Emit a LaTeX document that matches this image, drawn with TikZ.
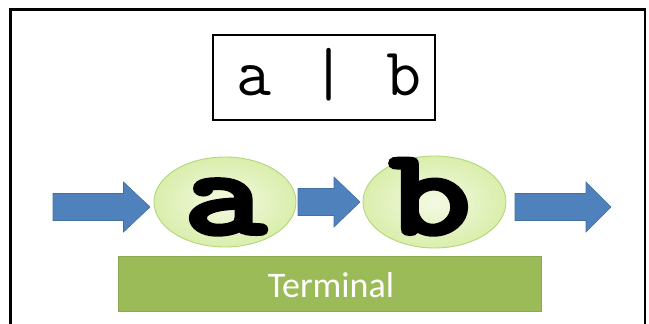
\documentclass[tikz,border=0pt]{standalone}
\usepackage{fontspec}
\setmainfont{Carlito}
\newfontfamily\courfont{Latin Modern Mono}
\newfontfamily\courboldfont{Latin Modern Mono}[FakeBold=5]
\usetikzlibrary{shapes.geometric}
\definecolor{arrowblue}{HTML}{4F81BD}
\definecolor{arrowedge}{HTML}{41709F}
\definecolor{ellfillin}{HTML}{F4FAE4}
\definecolor{ellfillout}{HTML}{DAEEAC}
\definecolor{elledge}{HTML}{B2D67A}
\definecolor{termgreen}{HTML}{9BBB59}
\definecolor{termedge}{HTML}{8BA84E}
\tikzset{
  blockarrow/.style={fill=arrowblue, draw=arrowedge, line width=0.6pt, line join=miter},
  stateell/.style={ellipse, inner sep=0pt, draw=elledge, line width=0.9pt,
    inner color=ellfillin, outer color=ellfillout},
  bigletter/.style={font=\courboldfont\fontsize{120}{120}\selectfont, inner sep=0pt, anchor=base},
}
\begin{document}
\begin{tikzpicture}[x=1pt,y=-1pt]
\useasboundingbox (0,0) rectangle (649,324);
% outer frame (open at the bottom)
\draw[line width=2.5pt] (10.5,330) -- (10.5,9.5) -- (645,9.5) -- (645,330);
% top expression box
\node[draw, line width=2pt, minimum width=222pt, minimum height=85pt, inner sep=0pt] (expr) at (324,77.5) {};
\node[font=\courfont\fontsize{68}{68}\selectfont, anchor=base, inner sep=0pt] (exprtext) at (329,95) {a\hspace{40pt}|\hspace{40pt}b};
% state ellipses
\node[stateell, minimum width=142pt, minimum height=90pt] (ea) at (225,202) {};
\node[stateell, minimum width=143pt, minimum height=92pt] (eb) at (434.5,202) {};
\node[bigletter] (la) at (225,233) {\scalebox{1.3}[1]{a}};
\node[bigletter] (lb) at (430,233) {\scalebox{1.3}[1]{b}};
% block arrows
\draw[blockarrow] (53,193.5) -- (123.5,193.5) -- (123.5,182) -- (150,207) -- (123.5,232) -- (123.5,220.5) -- (53,220.5) -- cycle;
\draw[blockarrow] (298,188.5) -- (334,188.5) -- (334,177) -- (360,202) -- (334,227) -- (334,215.5) -- (298,215.5) -- cycle;
\draw[blockarrow] (515,193.5) -- (586,193.5) -- (586,182) -- (611,207) -- (586,232) -- (586,220.5) -- (515,220.5) -- cycle;
% terminal bar
\node[fill=termgreen, draw=termedge, line width=0.8pt, minimum width=423pt, minimum height=55pt, inner sep=0pt] (term) at (329.5,283.5) {};
\node[text=white, font=\fontsize{36}{36}\selectfont, anchor=base, inner sep=0pt] (termtext) at (331,297) {Terminal};
\end{tikzpicture}
\end{document}
